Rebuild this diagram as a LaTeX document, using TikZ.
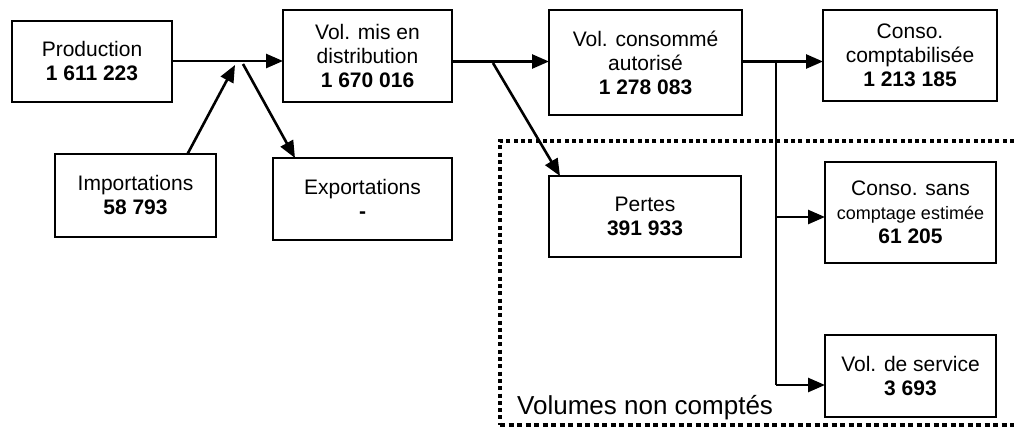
\documentclass[tikz,border=0pt]{standalone}
\usepackage{fontspec}
\setmainfont{Liberation Sans}
\usetikzlibrary{arrows.meta}
\begin{document}
\begin{tikzpicture}[x=1pt,y=-1pt,
  box/.style={draw,line width=2pt,inner sep=0pt,outer sep=0pt,align=center,
    font=\fontsize{21}{24}\selectfont},
  arr/.style={line width=2.6pt,-{Triangle[length=17pt,width=14pt]}},
  ln/.style={line width=1.7pt},
  smalltxt/.style={font=\fontsize{18}{22}\selectfont}]
\useasboundingbox (0,0) rectangle (1014,429);
\fill[white] (0,0) rectangle (1014,429);
% dotted area
\draw[line width=4pt,dash pattern=on 4pt off 3.3pt] (1014,141) -- (500,141) -- (500,425);
\draw[line width=3.5pt,dash pattern=on 5pt off 3.5pt] (500,425) -- (1014,425);
\node[anchor=base west,font=\fontsize{26}{30}\selectfont,inner sep=0pt] (vnc) at (517,414) {Volumes non comptés};
% boxes
\node[box,minimum width=160pt,minimum height=81pt] (prod) at (92,61.5) {Production\\\textbf{1 611 223}};
\node[box,minimum width=169pt,minimum height=92pt] (dist) at (367.5,56) {Vol. mis en\\distribution\\\textbf{1 670 016}};
\node[box,minimum width=193pt,minimum height=105pt] (cons) at (645.5,62.5) {Vol. consommé\\autorisé\\\textbf{1 278 083}};
\node[box,minimum width=174pt,minimum height=91pt] (compt) at (910,55.5) {Conso.\\comptabilisée\\\textbf{1 213 185}};
\node[box,minimum width=161pt,minimum height=83pt] (imp) at (135.5,195.5) {Importations\\\textbf{58 793}};
\node[box,minimum width=179pt,minimum height=82pt] (exp) at (362.5,199) {Exportations\\\textbf{-}};
\node[box,minimum width=192pt,minimum height=81pt] (pertes) at (645,216.5) {Pertes\\\textbf{391 933}};
\node[box,minimum width=171pt,minimum height=101pt] (sans) at (910.5,212.5) {Conso. sans\\{\fontsize{18}{22}\selectfont comptage estimée}\\\textbf{61 205}};
\node[box,minimum width=171pt,minimum height=82pt] (serv) at (910.5,376) {Vol. de service\\\textbf{3 693}};
% junction points
\coordinate (impend) at (235,65);
\coordinate (expst) at (243,64);
\coordinate (pst) at (493,63);
\coordinate (br) at (776,62);
% connectors
\draw[arr] ([yshift=0.5pt]prod.east) -- ([yshift=0.5pt]prod.east -| dist.west);
\draw[arr] ([yshift=1pt]cons.west -| dist.east) -- ([yshift=1pt]cons.west);
\draw[arr] ([yshift=1pt]cons.east) -- ([yshift=1pt]cons.east -| compt.west);
\draw[arr] ([xshift=52pt]imp.north) -- (impend);
\draw[arr] (expst) -- ([xshift=22pt]exp.north west);
\draw[arr] (pst) -- ([xshift=11pt]pertes.north west);
\draw[ln] (br) -- (br |- serv.west) -- ++(0,9);
\draw[arr] (br |- 0,217) -- ([yshift=-4.5pt]sans.west);
\draw[arr] ([yshift=-9pt]serv.west -| br) -- ([yshift=-9pt]serv.west);
\end{tikzpicture}
\end{document}
